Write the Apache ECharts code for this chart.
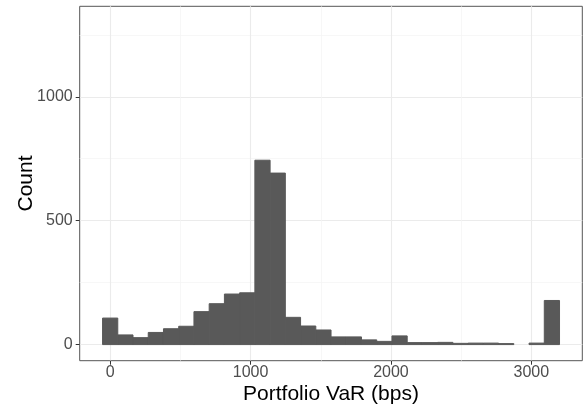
<!DOCTYPE html>
<html>
<head>
<meta charset="utf-8">
<script src="https://cdn.jsdelivr.net/npm/echarts@6/dist/echarts.min.js"></script>
<style>
html,body{margin:0;padding:0;background:#fff;}
#chart{width:588px;height:411px;}
</style>
</head>
<body>
<div id="chart"></div>
<script>
// Histogram: 30 bins, bin centres at index * binWidth
var binWidth = 108.5;
var counts = [107, 39, 28, 49, 64, 74, 133, 165, 204, 209, 744, 692, 110, 75, 59, 31, 31, 19, 13, 35, 8, 8, 9, 5, 6, 6, 4, 0, 6, 178];
var xMajorTicks = [0, 1000, 2000, 3000];
var xMinorTicks = [500, 1500, 2500];
var yMajorTicks = [0, 500, 1000];
var yMinorTicks = [250, 750, 1250];
var xLabel = 'Portfolio VaR (bps)';
var yLabel = 'Count';

var bins = counts.map(function (c, i) { return [i * binWidth, c]; });

var xMin = -217, xMax = 3363, yMin = -65, yMax = 1365;
var font = 'Liberation Sans, Arial, sans-serif';
var plain = function (v) { return String(v); };

var chart = echarts.init(document.getElementById('chart'), null, {renderer: 'canvas'});
chart.setOption({
  animation: false,
  backgroundColor: '#ffffff',
  grid: {left: 79.7, right: 5.7, top: 6.3, bottom: 50.3, containLabel: false, outerBoundsMode: 'none',
         show: true, borderColor: '#555', borderWidth: 1, backgroundColor: 'transparent'},
  xAxis: [{
    type: 'value', min: xMin, max: xMax,
    axisLine: {show: false, onZero: false},
    axisTick: {show: true, length: 4, lineStyle: {color: '#333'}, customValues: xMajorTicks},
    axisLabel: {customValues: xMajorTicks, color: '#4D4D4D', fontSize: 16, fontFamily: font, margin: 4, formatter: plain},
    splitLine: {show: true, lineStyle: {color: '#EBEBEB', width: 1.1}},
    name: xLabel, nameLocation: 'middle', nameGap: 23, nameMoveOverlap: false,
    nameTextStyle: {color: '#000', fontSize: 21, fontFamily: font, verticalAlign: 'top'}
  }, {
    type: 'value', min: xMin, max: xMax, position: 'bottom',
    axisLine: {show: false, onZero: false},
    axisTick: {show: false, customValues: xMinorTicks},
    axisLabel: {show: false, customValues: xMinorTicks},
    splitLine: {show: true, lineStyle: {color: '#F4F4F4', width: 0.7}}
  }],
  yAxis: [{
    type: 'value', min: yMin, max: yMax,
    axisLine: {show: false, onZero: false},
    axisTick: {show: true, length: 4, lineStyle: {color: '#333'}, customValues: yMajorTicks},
    axisLabel: {customValues: yMajorTicks, color: '#4D4D4D', fontSize: 16, fontFamily: font, margin: 7, formatter: plain},
    splitLine: {show: true, lineStyle: {color: '#EBEBEB', width: 1.1}},
    name: yLabel, nameLocation: 'middle', nameGap: 43, nameRotate: 90, nameMoveOverlap: false,
    nameTextStyle: {color: '#000', fontSize: 21, fontFamily: font}
  }, {
    type: 'value', min: yMin, max: yMax,
    axisLine: {show: false, onZero: false},
    axisTick: {show: false, customValues: yMinorTicks},
    axisLabel: {show: false, customValues: yMinorTicks},
    splitLine: {show: true, lineStyle: {color: '#F4F4F4', width: 0.7}}
  }],
  series: [{
    type: 'custom',
    xAxisIndex: 0, yAxisIndex: 0,
    data: bins,
    renderItem: function (params, api) {
      var x = api.value(0), y = api.value(1);
      if (y <= 0) return null;
      var p0 = api.coord([x - binWidth / 2, y]);
      var p1 = api.coord([x + binWidth / 2, 0]);
      return {
        type: 'rect',
        shape: {x: p0[0], y: p0[1], width: p1[0] - p0[0], height: p1[1] - p0[1]},
        style: {fill: '#595959', stroke: '#595959', lineWidth: 1}
      };
    }
  }]
});
</script>
</body>
</html>
